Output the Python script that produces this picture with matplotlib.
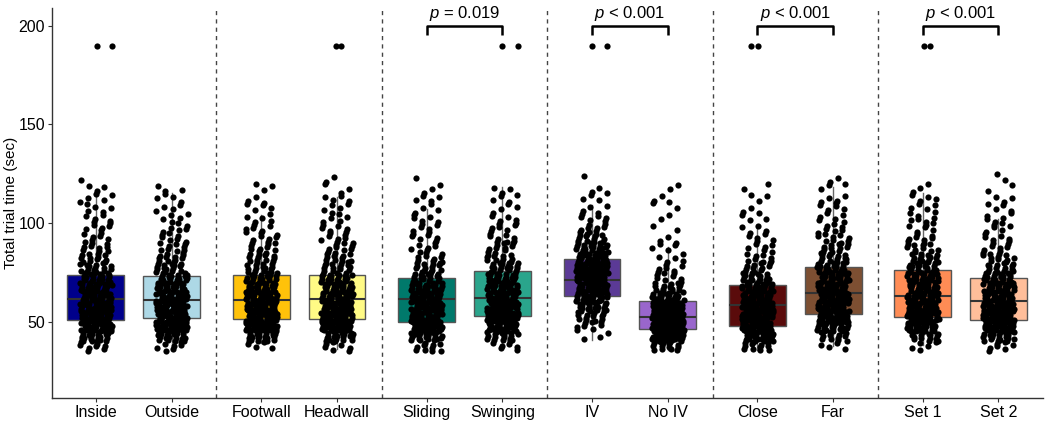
import numpy as np
import matplotlib
matplotlib.use("Agg")
import matplotlib.pyplot as plt

plt.rcParams["font.family"] = ["Liberation Sans", "DejaVu Sans"]
plt.rcParams["mathtext.fontset"] = "custom"
plt.rcParams["mathtext.it"] = "Liberation Sans:italic"
plt.rcParams["mathtext.rm"] = "Liberation Sans"

# ---- data ----
labels = ["Inside", "Outside", "Footwall", "Headwall", "Sliding", "Swinging",
          "IV", "No IV", "Close", "Far", "Set 1", "Set 2"]
colors = ["#00008B", "#ADD8E6", "#FFC20A", "#FFFA85", "#00796B", "#2AA58C",
          "#5B3A96", "#9966CC", "#5A0B0B", "#7D4F32", "#FF8C55", "#FFBE9A"]

q1 = [50.9, 51.7, 51.2, 51.2, 49.8, 52.9, 62.8, 46.3, 48.0, 53.8, 52.4, 51.0]
med = [61.5, 61.0, 61.0, 61.5, 61.3, 62.0, 70.9, 52.4, 58.5, 64.7, 63.2, 60.3]
q3 = [73.7, 73.3, 73.7, 73.7, 72.2, 75.5, 81.9, 60.3, 68.4, 77.7, 76.4, 72.2]
whis_lo = [38, 36, 39, 36, 36, 37, 40.5, 35.5, 35.5, 37.5, 38, 37]
whis_hi = [117, 115, 104, 113, 107, 118, 109, 88, 98, 118, 115, 102]

# counts of trials per 5-second bin, 35-40 ... 120-125
bin_edges = np.arange(35, 130, 5)
counts = [
    [8, 22, 31, 31, 31, 28, 24, 21, 15, 12, 9, 7, 6, 5, 5, 5, 3, 1],     # Inside
    [7, 20, 33, 32, 32, 29, 24, 20, 15, 12, 9, 7, 6, 5, 4, 4, 3, 0],     # Outside
    [4, 21, 35, 32, 32, 29, 24, 20, 15, 12, 9, 7, 6, 5, 4, 3, 3, 0],     # Footwall
    [7, 20, 33, 32, 32, 28, 24, 21, 14, 11, 9, 7, 6, 5, 5, 4, 3, 2],     # Headwall
    [10, 24, 33, 30, 32, 29, 26, 19, 12, 9, 7, 6, 6, 5, 4, 4, 3, 1],     # Sliding
    [7, 16, 29, 35, 32, 29, 26, 23, 17, 12, 9, 8, 6, 5, 4, 4, 3, 0],     # Swinging
    [0, 3, 8, 12, 20, 27, 32, 33, 33, 29, 22, 13, 9, 6, 4, 3, 3, 1],     # IV
    [14, 38, 50, 49, 40, 24, 14, 8, 6, 5, 4, 3, 2, 2, 2, 3, 2, 0],       # No IV
    [12, 28, 35, 35, 33, 29, 24, 17, 11, 8, 6, 5, 4, 3, 3, 3, 2, 0],     # Close
    [4, 12, 24, 32, 30, 30, 28, 24, 20, 14, 11, 9, 7, 6, 5, 4, 3, 2],    # Far
    [5, 15, 28, 32, 30, 28, 26, 24, 19, 14, 10, 8, 6, 6, 5, 4, 3, 0],    # Set 1
    [7, 20, 33, 33, 33, 28, 24, 20, 14, 11, 8, 6, 6, 5, 4, 3, 2, 2],     # Set 2
]

# the long trials near 190 s
long_box = [0, 0, 3, 3, 5, 5, 6, 6, 8, 8, 10, 10]
long_val = [189.5] * 12
long_jit = [0.01, 0.21, -0.01, 0.05, 0.0, 0.2, 0.0, 0.2, -0.09, 0.01, 0.01, 0.1]

pairs = [(4, 5, r"$p$ = 0.019"), (6, 7, r"$p$ < 0.001"),
         (8, 9, r"$p$ < 0.001"), (10, 11, r"$p$ < 0.001")]

# ---- layout ----
pair_step = 2.184
pos = []
for i in range(6):
    pos += [1 + i * pair_step, 2 + i * pair_step]

fig = plt.figure(figsize=(10.5, 4.22), dpi=100)
ax = fig.add_axes([0.0495, 0.057, 0.944, 0.924])

stats = []
for i in range(12):
    stats.append(dict(med=med[i], q1=q1[i], q3=q3[i], whislo=whis_lo[i],
                      whishi=whis_hi[i], fliers=[]))
bp = ax.bxp(stats, positions=pos, widths=0.75, patch_artist=True,
            showcaps=False, zorder=2,
            boxprops=dict(edgecolor="#555555", linewidth=1.0),
            whiskerprops=dict(color="#666666", linewidth=1.0),
            medianprops=dict(color="#333333", linewidth=1.5))
for patch, c in zip(bp["boxes"], colors):
    patch.set_facecolor(c)

# jittered points (R2 low-discrepancy sequence for the spread)
a1, a2 = 0.7548776662, 0.5698402910
for i in range(12):
    xs, ys = [], []
    start = 0
    for b, n in enumerate(counts[i]):
        lo = bin_edges[b]
        for k in range(n):
            idx = start + k
            u = (0.5 + 0.29 * i + idx * a1) % 1.0
            v = (0.5 + 0.13 * i + idx * a2) % 1.0
            xs.append(pos[i] + (u - 0.5) * 0.42)
            ys.append(lo + v * 5.0)
        start += n
    ax.scatter(xs, ys, s=20, color="black", linewidths=0, zorder=3)

for b, v, j in zip(long_box, long_val, long_jit):
    ax.scatter(pos[b] + j, v, s=20, color="black", linewidths=0, zorder=3)

# dashed separators
for i in range(5):
    xsep = (pos[2 * i + 1] + pos[2 * i + 2]) / 2
    ax.axvline(xsep, color="#444444", linestyle=(0, (3, 3)), linewidth=1.0,
               zorder=1)

# significance brackets
for a, b, txt in pairs:
    ax.plot([pos[a], pos[a], pos[b], pos[b]], [195.5, 200, 200, 195.5],
            color="black", linewidth=1.8, solid_capstyle="butt", zorder=4)
    ax.text((pos[a] + pos[b]) / 2, 201.5, txt, ha="center", va="bottom",
            fontsize=12)

ax.set_xlim(0.42, 2 + 5 * pair_step + 0.59)
ax.set_ylim(11.3, 209)
ax.set_yticks([50, 100, 150, 200])
ax.set_xticks(pos)
ax.set_xticklabels(labels)
ax.set_ylabel("Total trial time (sec)", fontsize=11)
ax.yaxis.set_label_coords(-0.034, 0.5)
ax.tick_params(labelsize=11.5, length=3, pad=2, color="#333333",
               labelcolor="black")
for s in ["top", "right"]:
    ax.spines[s].set_visible(False)
for s in ["left", "bottom"]:
    ax.spines[s].set_color("#333333")
    ax.spines[s].set_linewidth(1.0)

fig.savefig("out.png", dpi=100)
